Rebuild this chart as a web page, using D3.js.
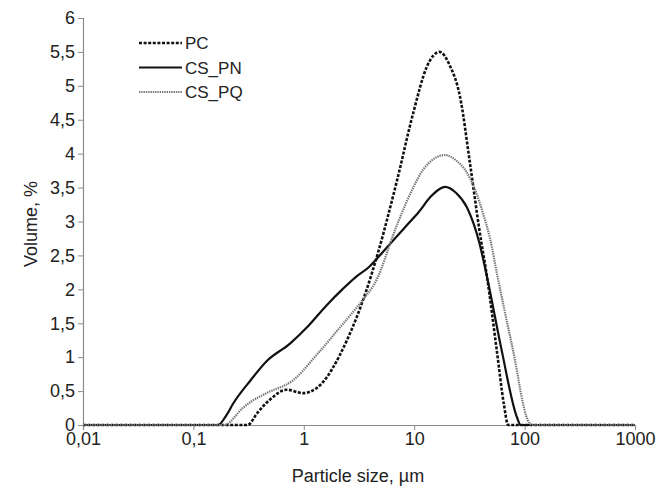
<!DOCTYPE html>
<html>
<head>
<meta charset="utf-8">
<script src="https://cdn.jsdelivr.net/npm/d3@7"></script>
<style>
  body { margin: 0; background: #fff; }
  #plot { width: 670px; height: 489px; }
  text { font-family: "Liberation Sans", Arial, sans-serif; }
</style>
</head>
<body>
<div id="plot"></div>
<script>
// Data (particle size in µm, volume in %)
var pcSize  = [0.01, 0.31, 0.38, 0.49, 0.7, 0.98, 1.32, 2.46, 3.7, 4.7, 7, 9.8, 13, 17, 21, 26, 32, 39, 45.7, 56, 65, 71, 1000];
var pcVol   = [0, 0, 0.18, 0.37, 0.52, 0.47, 0.55, 1.25, 1.99, 2.54, 3.61, 4.6, 5.28, 5.5, 5.3, 4.84, 3.86, 2.87, 2.18, 1.1, 0.3, 0, 0];

var pnSize  = [0.01, 0.167, 0.2, 0.23, 0.33, 0.46, 0.75, 1.07, 1.62, 2.27, 2.9, 3.9, 5.4, 8.3, 11, 14, 17, 19, 24, 30, 39, 45.7, 62, 85, 92, 1000];
var pnVol   = [0, 0, 0.15, 0.32, 0.66, 0.94, 1.2, 1.44, 1.77, 2.01, 2.17, 2.33, 2.58, 2.92, 3.14, 3.36, 3.48, 3.51, 3.42, 3.21, 2.68, 2.18, 1.1, 0.12, 0, 0];

var pqSize  = [0.01, 0.19, 0.28, 0.33, 0.46, 0.8, 1.35, 2.13, 3.4, 4.4, 7.1, 9.8, 12, 19, 24, 30, 36, 42, 48.6, 57, 78.6, 107, 117, 1000];
var pqVol   = [0, 0, 0.25, 0.34, 0.47, 0.66, 1.06, 1.44, 1.84, 2.09, 2.98, 3.5, 3.76, 3.98, 3.9, 3.72, 3.45, 3.12, 2.75, 2.18, 1.1, 0.07, 0, 0];

var seriesNames = ["PC", "CS_PN", "CS_PQ"];
var xTicks = [0.01, 0.1, 1, 10, 100, 1000];
var yTicks = [0, 0.5, 1, 1.5, 2, 2.5, 3, 3.5, 4, 4.5, 5, 5.5, 6];

var w = 670, h = 489;
var padLeft = 83, padRight = 635, padTop = 18, padBottom = 425;

var svg = d3.select("#plot").append("svg")
    .attr("width", w)
    .attr("height", h);

var xScale = d3.scaleLog().domain([0.01, 1000]).range([padLeft, padRight]);
var yScale = d3.scaleLinear().domain([0, 6]).range([padBottom, padTop]);

var commaFmt = function(d) { return String(d).replace(".", ","); };

// Axes
var xAxis = svg.append("g")
    .attr("transform", "translate(0," + padBottom + ")")
    .call(d3.axisBottom(xScale).tickValues(xTicks).tickFormat(commaFmt).tickSize(5).tickPadding(2));
var yAxis = svg.append("g")
    .attr("transform", "translate(" + padLeft + ",0)")
    .call(d3.axisLeft(yScale).tickValues(yTicks).tickFormat(commaFmt).tickSize(5).tickPadding(3));

[xAxis, yAxis].forEach(function(g) {
  g.select(".domain").attr("stroke", "#8c8c8c").attr("stroke-width", 1.2);
  g.selectAll(".tick line").attr("stroke", "#8c8c8c");
  g.selectAll(".tick text")
    .attr("fill", "#222")
    .style("font-size", "18px")
    .style("font-family", "'Liberation Sans', Arial, sans-serif");
});

// Axis titles
svg.append("text")
    .attr("x", 358).attr("y", 482)
    .attr("text-anchor", "middle")
    .attr("fill", "#222")
    .style("font-size", "18px")
    .text("Particle size, µm");

svg.append("text")
    .attr("transform", "translate(37,224) rotate(-90)")
    .attr("text-anchor", "middle")
    .attr("fill", "#222")
    .style("font-size", "18px")
    .text("Volume, %");

// Series
var styles = {
  "PC":    { stroke: "#111", width: 2.6, dash: "3,1.6" },
  "CS_PN": { stroke: "#111", width: 2.2, dash: null },
  "CS_PQ": { stroke: "#777", width: 2.2, dash: "1.4,0.9" }
};

var series = [
  { name: "PC",    pts: d3.zip(pcSize, pcVol) },
  { name: "CS_PN", pts: d3.zip(pnSize, pnVol) },
  { name: "CS_PQ", pts: d3.zip(pqSize, pqVol) }
];

var line = d3.line()
    .x(function(d) { return xScale(d[0]); })
    .y(function(d) { return yScale(d[1]); })
    .curve(d3.curveMonotoneX);

svg.selectAll(".series")
    .data(series)
    .enter().append("path")
    .attr("class", "series")
    .attr("d", function(d) { return line(d.pts); })
    .attr("fill", "none")
    .attr("stroke", function(d) { return styles[d.name].stroke; })
    .attr("stroke-width", function(d) { return styles[d.name].width; })
    .attr("stroke-dasharray", function(d) { return styles[d.name].dash; });

// Legend
var legend = svg.selectAll(".legend")
    .data(seriesNames)
    .enter().append("g")
    .attr("class", "legend")
    .attr("transform", function(d, i) { return "translate(139," + (43 + i * 24.5) + ")"; });

legend.append("line")
    .attr("x1", 0).attr("x2", 43)
    .attr("stroke", function(d) { return styles[d].stroke; })
    .attr("stroke-width", function(d) { return styles[d].width; })
    .attr("stroke-dasharray", function(d) { return styles[d].dash; });

legend.append("text")
    .attr("x", 46).attr("y", 6)
    .attr("fill", "#222")
    .style("font-size", "17px")
    .text(function(d) { return d; });
</script>
</body>
</html>
